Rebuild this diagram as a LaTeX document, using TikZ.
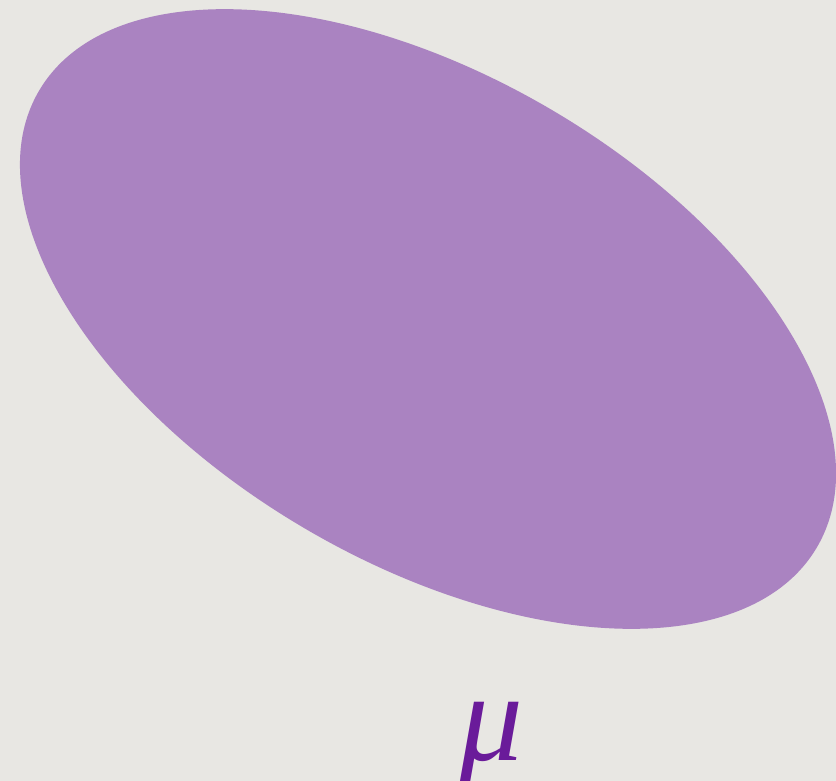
\documentclass[tikz,border=0pt]{standalone}
\usepackage{fontspec}
\newfontfamily\muface{Liberation Serif}
\definecolor{bg}{HTML}{E8E7E3}
\definecolor{blob}{HTML}{AA83C1}
\definecolor{mucol}{HTML}{6A1B9A}
\begin{document}
\begin{tikzpicture}[x=1pt,y=-1pt,
  blobstyle/.style={fill=blob,draw=none},
  labelstyle/.style={text=mucol,inner sep=0pt,anchor=base,font=\muface\itshape\fontsize{127}{127}\selectfont}]
\fill[bg] (0,0) rectangle (836,781);
\useasboundingbox (0,0) rectangle (836,781);
\fill[blobstyle] (428,319) ellipse[x radius=451pt,y radius=243pt,rotate=-30.4];
\node[labelstyle] (mu) at (491,760) {μ};
\end{tikzpicture}
\end{document}
